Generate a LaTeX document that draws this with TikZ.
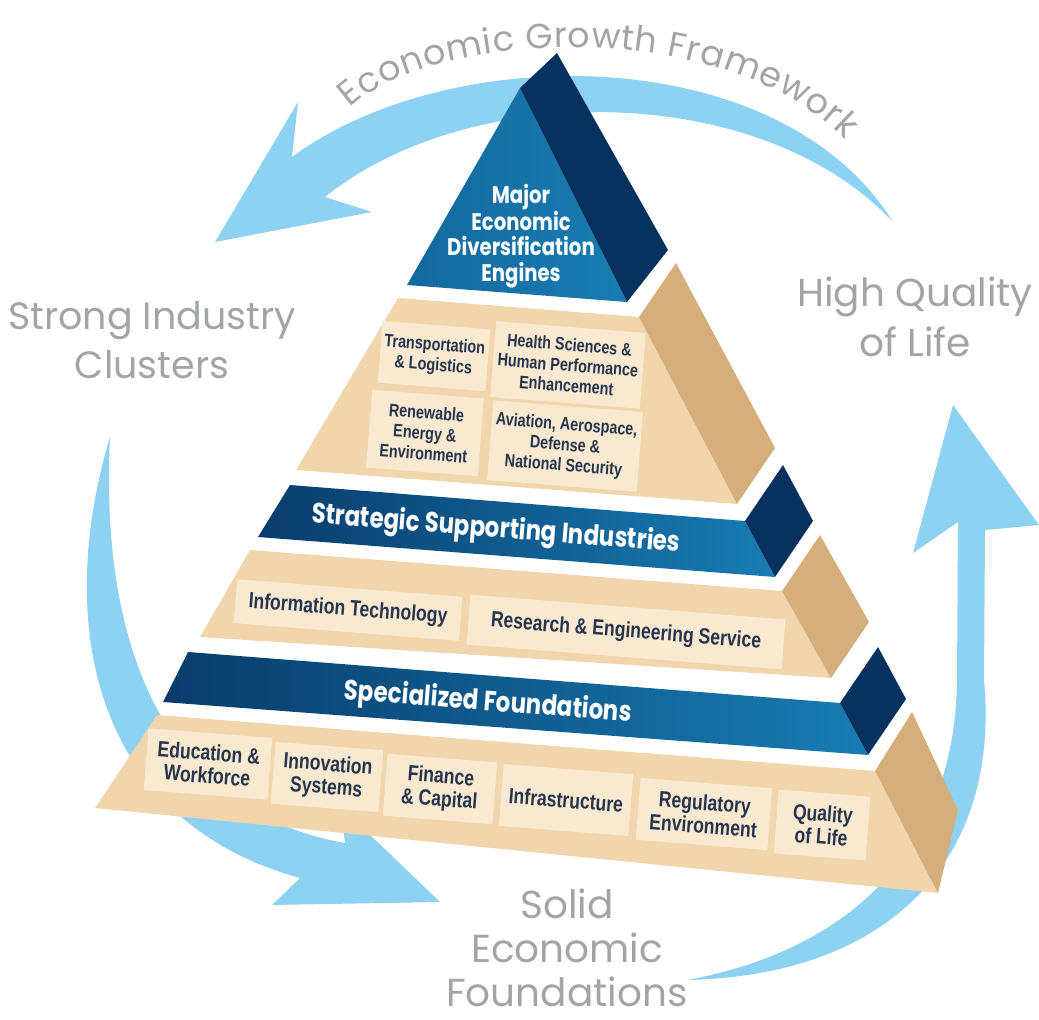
\documentclass[tikz,border=0pt]{standalone}
\usepackage{fontspec}
\setmainfont{Poppins}
\newfontfamily\cellfont[FakeStretch=0.8]{Liberation Sans}
\newfontfamily\tierfont[FakeStretch=0.82]{Poppins}
\usetikzlibrary{decorations.text}
\definecolor{skyarrow}{RGB}{141,209,243}
\definecolor{deepblue}{RGB}{9,60,108}
\definecolor{midblue}{RGB}{24,124,178}
\definecolor{sideblue}{RGB}{7,50,96}
\definecolor{sandfront}{RGB}{241,213,172}
\definecolor{sandcell}{RGB}{248,233,208}
\definecolor{sandside}{RGB}{213,174,124}
\definecolor{greytext}{RGB}{163,164,168}
\definecolor{celltext}{RGB}{38,52,76}

\begin{document}
\begin{tikzpicture}[x=1pt,y=-1pt,
	outer/.style={text=greytext,align=center,inner sep=0pt,font=\fontsize{38}{49}\selectfont},
	tiertext/.style={text=white,align=center,font=\tierfont\bfseries\fontsize{28}{30}\selectfont},
	cell/.style={fill=sandcell,text=celltext,align=center,inner sep=0pt,rotate=-4.5,font=\cellfont\bfseries\fontsize{22}{23}\selectfont},
	smallcell/.style={cell,font=\cellfont\bfseries\fontsize{18}{20.5}\selectfont}]
	\useasboundingbox (0,0) rectangle (1039,1020);
	\fill[skyarrow] (215,242) -- (298,102) -- (292,157) .. controls (450,40) and (780,40) .. (893,222) .. controls (760,80) and (470,80) .. (325,197) -- (372,212) -- cycle;
	\fill[skyarrow] (110,437) .. controls (55,620) and (90,820) .. (300,878) -- (272,905) -- (440,902) -- (340,806) -- (345,843) .. controls (160,810) and (100,640) .. (110,437) -- cycle;
	\fill[skyarrow] (953,405) -- (1039,525) -- (985,530) -- (984,680) .. controls (1000,850) and (900,975) .. (687,980) .. controls (850,950) and (955,850) .. (957,680) -- (958,522) -- (913,553) -- cycle;
	\shade[left color=midblue!70!deepblue,right color=midblue] (520,88) -- (627,302) -- (407,285) -- cycle;
	\fill[sideblue] (520,88) -- (557,53) -- (668,250) -- (627,302) -- cycle;
	\fill[sandfront] (398,298) -- (639,317) -- (737,504) -- (296,470) -- cycle;
	\fill[sandside] (639,317) -- (676,263) -- (775,448) -- (737,504) -- cycle;
	\shade[left color=deepblue,right color=midblue] (290,485) -- (745,521) -- (775,577) -- (258,537) -- cycle;
	\fill[sideblue] (745,521) -- (783,465) -- (813,521) -- (775,577) -- cycle;
	\fill[sandfront] (250,550) -- (782,591) -- (831,678) -- (200,637) -- cycle;
	\fill[sandside] (782,591) -- (820,535) -- (869,622) -- (831,678) -- cycle;
	\shade[left color=deepblue,right color=midblue] (188,652) -- (840,703) -- (868,755) -- (163,702) -- cycle;
	\fill[sideblue] (840,703) -- (878,647) -- (906,699) -- (868,755) -- cycle;
	\fill[sandfront] (157,715) -- (875,771) -- (938,893) -- (95,808) -- cycle;
	\fill[sandside] (875,771) -- (912,712) -- (958,810) -- (938,893) -- cycle;
	\node[tiertext,font=\tierfont\bfseries\fontsize{24}{25.5}\selectfont] (engines) at (521,236) {Major\\Economic\\Diversification\\Engines};
	\node[tiertext,rotate=-4.5] (strategic) at (496,530) {Strategic Supporting Industries};
	\node[tiertext,rotate=-4.5] (specialized) at (488,703) {Specialized Foundations};
	\node[smallcell,minimum width=108,minimum height=62] (trans) at (434,356) {Transportation\\\& Logistics};
	\node[smallcell,minimum width=150,minimum height=76] (health) at (568,365) {Health Sciences \&\\Human Performance\\Enhancement};
	\node[smallcell,minimum width=112,minimum height=78] (renew) at (425,433) {Renewable\\Energy \&\\Environment};
	\node[smallcell,minimum width=150,minimum height=80] (aviat) at (565,446) {Aviation, Aerospace,\\Defense \&\\National Security};
	\node[cell,minimum width=226,minimum height=44] (itech) at (348,610) {Information Technology};
	\node[cell,minimum width=316,minimum height=50] (research) at (626,632) {Research \& Engineering Service};
	\node[cell,minimum width=124,minimum height=62] (edu) at (208,764) {Education \&\\Workforce};
	\node[cell,minimum width=108,minimum height=62] (innov) at (327,777) {Innovation\\Systems};
	\node[cell,minimum width=110,minimum height=62] (finance) at (440,789) {Finance\\\& Capital};
	\node[cell,minimum width=130,minimum height=62] (infra) at (566,800) {Infrastructure};
	\node[cell,minimum width=132,minimum height=62] (regul) at (704,814) {Regulatory\\Environment};
	\node[cell,minimum width=92,minimum height=64] (qlife) at (822,825) {Quality\\of Life};
	\node[outer] (clusters) at (152,340) {Strong Industry\\Clusters};
	\node[outer,font=\fontsize{39}{50}\selectfont] (highq) at (915,317) {High Quality\\of Life};
	\node[outer,font=\fontsize{39}{44}\selectfont] (solid) at (567,948) {Solid\\Economic\\Foundations};
	\path[decorate,decoration={text along path,text align=fit to path,text color=greytext,text={|\fontsize{35}{35}\selectfont|Economic Growth Framework}}] (350,108) .. controls (430,32) and (720,12) .. (845,140);
\end{tikzpicture}
\end{document}
